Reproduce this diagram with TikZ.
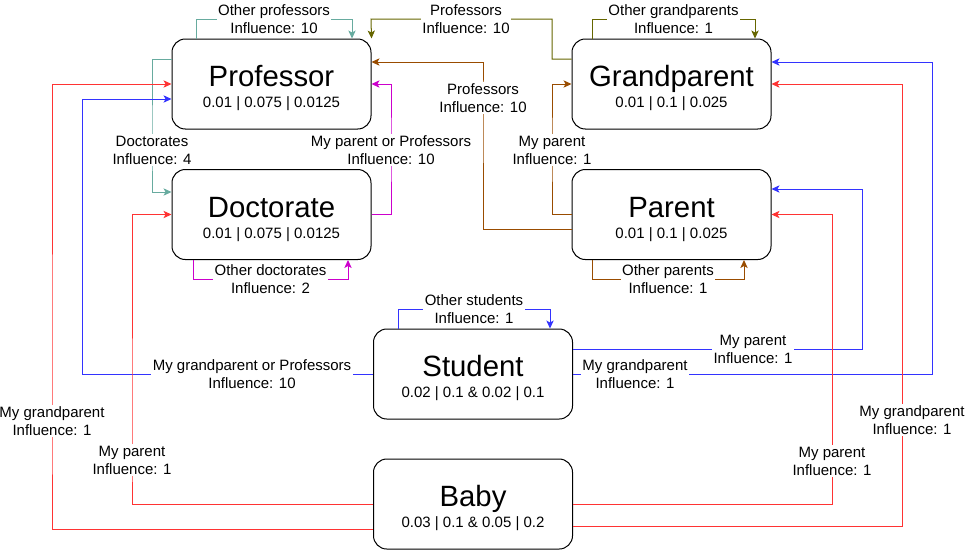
\documentclass[tikz,border=0pt]{standalone}
\usepackage{fontspec}
\setmainfont{Liberation Sans}
\usepackage{xcolor}
\usepackage{tikz}
\usetikzlibrary{arrows.meta,positioning}
\definecolor{tealline}{HTML}{67AB9F}
\definecolor{oliveline}{HTML}{666600}
\definecolor{brownline}{HTML}{994C00}
\definecolor{magline}{HTML}{CC00CC}
\definecolor{blueline}{HTML}{3333FF}
\definecolor{redline}{HTML}{FF3333}
\tikzstyle{card} = [rectangle, rounded corners=10pt, draw=black, line width=0.75pt, fill=white, minimum width=149.25pt, minimum height=67.5pt, align=center, font=\fontsize{11.25}{15.75}\selectfont]
\tikzstyle{lbl} = [fill=white, text=black, inner sep=1pt, align=center, font=\fontsize{11.25}{13.5}\selectfont]
\tikzstyle{link} = [-{Stealth[length=6pt,width=5.5pt,inset=1.5pt]}, line width=0.75pt]
\newcommand{\cardtitle}[1]{{\fontsize{22}{26}\selectfont\rule{0pt}{22pt}#1}}

\begin{document}
\begin{tikzpicture}[x=0.75pt, y=-0.75pt]
\useasboundingbox (0,0) rectangle (966,551);
\node[card] (professor) at (271.5,84) {\cardtitle{Professor}\\0.01 | 0.075 | 0.0125};
\node[card] (grandparent) at (671.5,84) {\cardtitle{Grandparent}\\0.01 | 0.1 | 0.025};
\node[card] (doctorate) at (271.5,214.5) {\cardtitle{Doctorate}\\0.01 | 0.075 | 0.0125};
\node[card] (parent) at (671.5,214.5) {\cardtitle{Parent}\\0.01 | 0.1 | 0.025};
\node[card] (student) at (473,374) {\cardtitle{Student}\\0.02 | 0.1 \& 0.02 | 0.1};
\node[card] (baby) at (473,504) {\cardtitle{Baby}\\0.03 | 0.1 \& 0.05 | 0.2};

% professors and doctorates
\draw[link, tealline] (196,0 |- professor.north) |- node[lbl, pos=0.75] {Other professors\\Influence: 10} (352,19) -- (352,0 |- professor.north);
\draw[link, tealline] (professor.west |- 0,59) -| (152,150) node[lbl] {Doctorates\\Influence: 4} |- (doctorate.west |- 0,192);
\draw[link, magline] (doctorate.east) -| (391,150) node[lbl] {My parent or Professors\\Influence: 10} |- (professor.east);
\draw[link, magline] (193,0 |- doctorate.south) |- node[lbl, pos=0.75] {Other doctorates\\Influence: 2} (348,279) -- (348,0 |- doctorate.south);

% grandparents and parents
\draw[link, oliveline] (grandparent.west |- 0,59) -| (552,19) -- (466,19) node[lbl] {Professors\\Influence: 10} -- (371,19) -- (professor.north east);
\draw[link, oliveline] (592,0 |- grandparent.north) |- node[lbl, pos=0.75] {Other grandparents\\Influence: 1} (755,19) -- (755,0 |- grandparent.north);
\draw[link, brownline] (parent.west |- 0,229) -| (483,98) node[lbl] {Professors\\Influence: 10} |- (professor.east |- 0,62);
\draw[link, brownline] (parent.west) -| (552,150) node[lbl] {My parent\\Influence: 1} |- (grandparent.west);
\draw[link, brownline] (592,0 |- parent.south) |- node[lbl, pos=0.75] {Other parents\\Influence: 1} (744,279) -- (744,0 |- parent.south);

% students
\draw[link, blueline] (398,0 |- student.north) |- node[lbl, pos=0.75] {Other students\\Influence: 1} (550,309) -- (550,0 |- student.north);
\draw[link, blueline] (student.west) -- (252,374) node[lbl] {My grandparent or Professors\\Influence: 10} -| (82,99) -- (professor.west |- 0,99);
\draw[link, blueline] (student.east |- 0,349) -- (753,349) node[lbl] {My parent\\Influence: 1} -| (862,189) -- (parent.east |- 0,189);
\draw[link, blueline] (student.east) -- (635,374) node[lbl] {My grandparent\\Influence: 1} -| (932,62) -- (grandparent.east |- 0,62);

% babies
\draw[link, redline] (baby.west |- 0,529) -| (52,421) node[lbl] {My grandparent\\Influence: 1} |- (professor.west);
\draw[link, redline] (baby.west) -| (132,460) node[lbl] {My parent\\Influence: 1} |- (doctorate.west);
\draw[link, redline] (baby.east) -| (832,461) node[lbl] {My parent\\Influence: 1} |- (parent.east);
\draw[link, redline] (baby.east |- 0,526) -| (902,420) node[lbl, xshift=7.5pt] {My grandparent\\Influence: 1} |- (grandparent.east);
\end{tikzpicture}
\end{document}
